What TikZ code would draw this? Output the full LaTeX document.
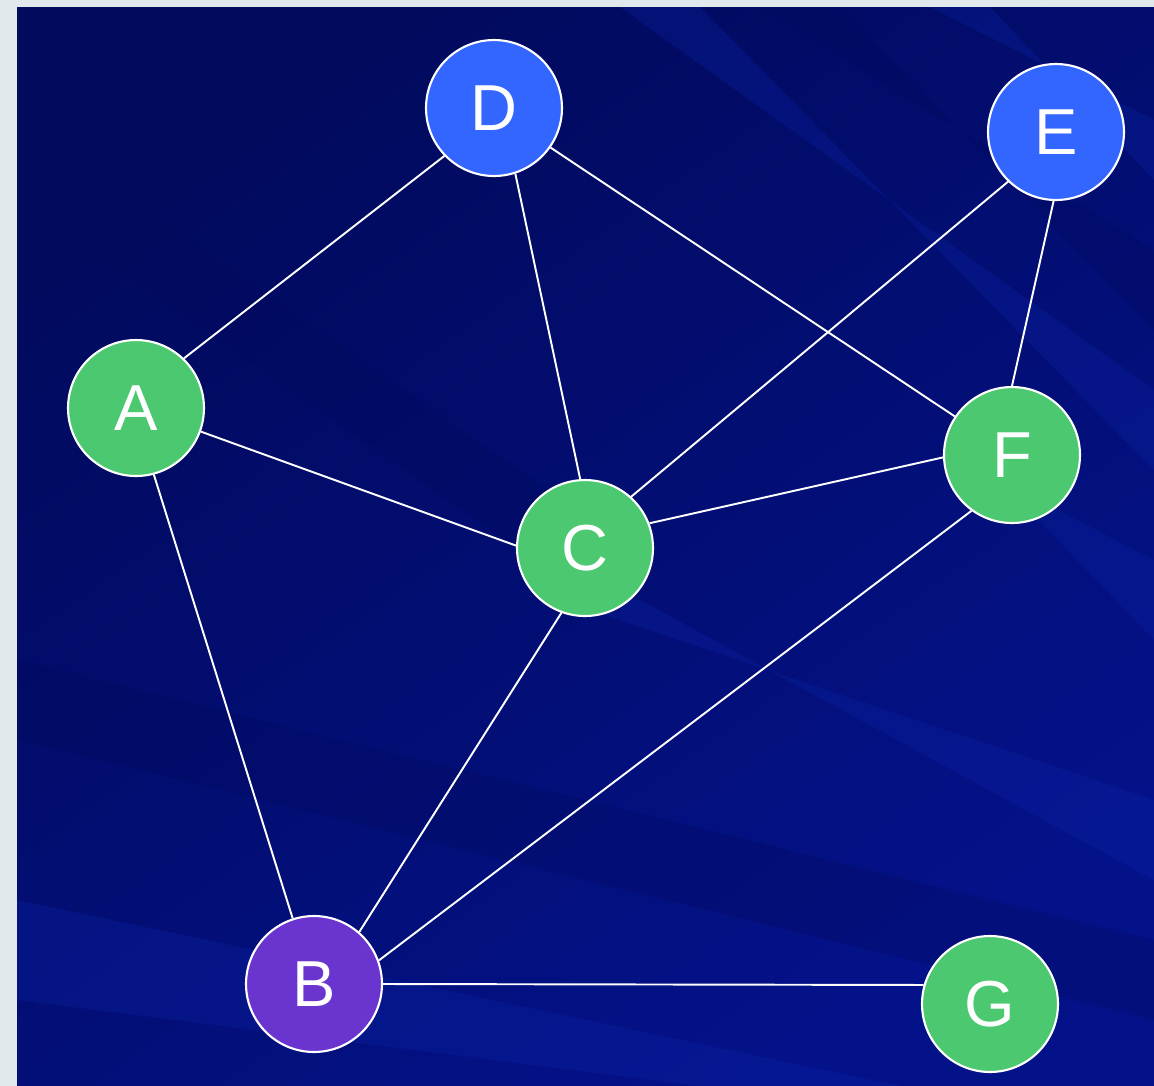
\documentclass[tikz,border=0pt]{standalone}
\usepackage{fontspec}
\setmainfont{Liberation Sans}
\usetikzlibrary{calc,positioning,backgrounds}
\definecolor{pagegray}{HTML}{E1E9EC}
\definecolor{navy}{HTML}{04128A}
\definecolor{navydark}{HTML}{010A5C}
\definecolor{navylight}{HTML}{0B24A8}
\definecolor{vblue}{HTML}{3366FF}
\definecolor{vgreen}{HTML}{4CC970}
\definecolor{vpurple}{HTML}{6A35CF}
\tikzset{
  vertex/.style={circle, draw=white, line width=1.2pt, minimum size=2.72cm,
    inner sep=0pt, text=white, font=\fontsize{37}{42}\selectfont},
  bluevertex/.style={vertex, fill=vblue},
  greenvertex/.style={vertex, fill=vgreen},
  purplevertex/.style={vertex, fill=vpurple},
  link/.style={draw=white, line width=1.1pt},
  streak/.style={opacity=0.3}
}

\begin{document}
\begin{tikzpicture}[x=0.02cm,y=-0.02cm]

    % page and panel
    \fill[pagegray] (0,0) rectangle (1154,1086);
    \useasboundingbox (0,0) rectangle (1154,1086);
    \shade[top color=navydark, bottom color=navy, shading angle=35]
        (17,7) rectangle (1154,1086);

    % streaks
    \begin{scope}
    \clip (17,7) rectangle (1154,1086);
    \fill[navydark, streak] (17,120) -- (17,200) -- (620,620) -- (620,540) -- cycle;
    \fill[navydark, streak] (17,660) -- (17,740) -- (1154,1020) -- (1154,940) -- cycle;
    \fill[navydark, streak] (760,7) -- (840,7) -- (1154,330) -- (1154,250) -- cycle;
    \fill[navylight, streak] (620,7) -- (700,7) -- (1154,470) -- (1154,390) -- cycle;
    \fill[navylight, streak] (930,7) -- (990,7) -- (1154,180) -- (1154,120) -- cycle;
    \fill[navylight, streak] (17,900) -- (17,1000) -- (700,1086) -- (900,1086) -- cycle;
    \fill[navylight, streak] (560,600) -- (640,600) -- (1154,880) -- (1154,800) -- cycle;
    \fill[navylight, streak] (1000,480) -- (1154,560) -- (1154,640) -- cycle;
    \end{scope}

    % vertices
    \node[bluevertex]   (D) at (494,108)  {D};
    \node[bluevertex]   (E) at (1056,132) {E};
    \node[greenvertex]  (A) at (136,408)  {A};
    \node[greenvertex]  (F) at (1012,455) {F};
    \node[greenvertex]  (C) at (585,548)  {C};
    \node[purplevertex] (B) at (314,984)  {B};
    \node[greenvertex]  (G) at (990,1004) {G};

    % edges
    \draw[link] (D.224) -- (A.46);
    \draw[link] (D.288) -- (C.94);
    \draw[link] (D.325) -- (F.146);
    \draw[link] (E.226) -- (C.48);
    \draw[link] (E.268) -- (F.90);
    \draw[link] (A.340) -- (C.178);
    \draw[link] (A.285) -- (B.108);
    \draw[link] (C.21)  -- (F.182);
    \draw[link] (C.250) -- (B.49);
    \draw[link] (F.234) -- (B.20);
    \draw[link] (B.0)   -- (G.164);

\end{tikzpicture}
\end{document}
